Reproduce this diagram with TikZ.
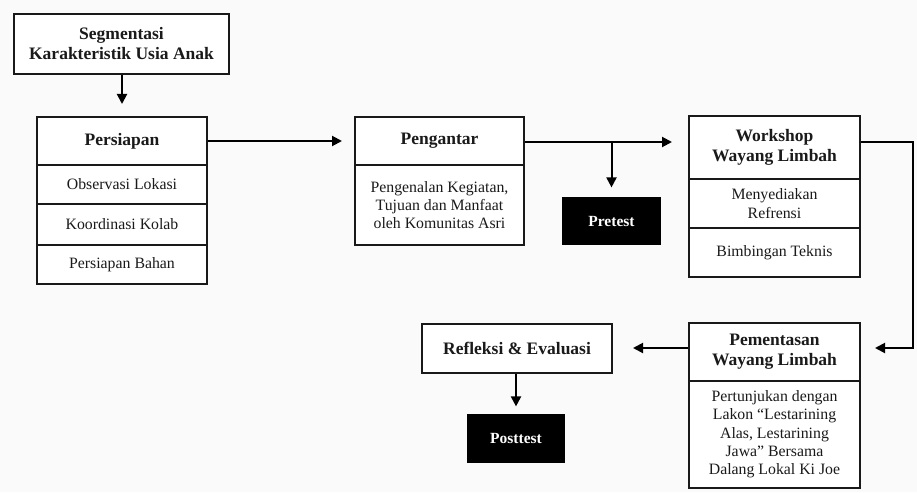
\documentclass[tikz,border=0pt]{standalone}
\usepackage{fontspec}
\setmainfont{Liberation Serif}
\usetikzlibrary{arrows.meta}
\definecolor{bgc}{HTML}{FAFAFA}
\definecolor{txt}{HTML}{1A1A1A}
\tikzset{
  box/.style={draw=black!90, line width=2pt, fill=white, inner sep=2pt, align=center, text=txt},
  head/.style={box, font=\fontsize{17.5}{20}\selectfont\bfseries},
  body/.style={box, font=\fontsize{15.8}{18.3}\selectfont},
  dark/.style={draw=black, line width=1.2pt, fill=black, text=white, font=\fontsize{15.5}{18}\selectfont\bfseries},
  arr/.style={line width=2pt, -{Triangle[length=10pt,width=10pt]}},
}
\begin{document}
\begin{tikzpicture}[x=1pt,y=-1pt]
\fill[bgc] (0,0) rectangle (917,492);
\useasboundingbox (0,0) rectangle (917,492);
% Segmentasi
\node[head, minimum width=215pt, minimum height=60pt] (seg) at (121.5,44) {Segmentasi\\Karakteristik Usia Anak};
% Persiapan
\node[head, minimum width=170pt, minimum height=48pt] (persH) at (122,141) {Persiapan};
\node[body, minimum width=170pt, minimum height=39pt] (pers1) at (122,184.5) {Observasi Lokasi};
\node[body, minimum width=170pt, minimum height=41pt] (pers2) at (122,224.5) {Koordinasi Kolab};
\node[body, minimum width=170pt, minimum height=39pt] (pers3) at (122,264.5) {Persiapan Bahan};
% Pengantar
\node[head, minimum width=169pt, minimum height=48pt] (pengH) at (439.5,141) {Pengantar};
\node[body, minimum width=169pt, minimum height=80pt] (peng1) at (439.5,205) {Pengenalan Kegiatan,\\Tujuan dan Manfaat\\oleh Komunitas Asri};
% Pretest
\node[dark, minimum width=97pt, minimum height=46pt] (pre) at (611.5,221) {Pretest};
% Workshop
\node[head, minimum width=171pt, minimum height=63pt] (wsH) at (774.5,147.5) {Workshop\\Wayang Limbah};
\node[body, minimum width=171pt, minimum height=49pt] (ws1) at (774.5,203.5) {Menyediakan\\Refrensi};
\node[body, minimum width=171pt, minimum height=49pt] (ws2) at (774.5,252.5) {Bimbingan Teknis};
% Pementasan
\node[head, minimum width=171pt, minimum height=58pt] (pemH) at (774.5,352) {Pementasan\\Wayang Limbah};
\node[body, minimum width=171pt, minimum height=107pt] (pem1) at (774.5,434.5) {Pertunjukan dengan\\Lakon ``Lestarining\\Alas, Lestarining\\Jawa'' Bersama\\Dalang Lokal Ki Joe};
% Refleksi
\node[head, minimum width=190pt, minimum height=49pt] (refl) at (517,348.5) {Refleksi \& Evaluasi};
% Posttest
\node[dark, minimum width=96pt, minimum height=47pt] (post) at (516,438.5) {Posttest};
% coordinates
\coordinate (c1) at (913,142);
\coordinate (c2) at (913,348);
% connectors
\draw[arr, shorten >=12pt] (seg.south -| persH.north) -- (persH.north);
\draw[arr, shorten >=12pt] (persH.east) -- (pengH.west);
\draw[arr, shorten >=16pt] (pengH.east |- c1) -- (wsH.west |- c1);
\draw[arr, shorten >=10pt] (pre.north |- c1) -- (pre.north);
\draw[arr, shorten >=14pt] (wsH.east |- c1) -- (c1) -- (c2) -- (pemH.east |- c2);
\draw[arr, shorten >=20pt] (pemH.west |- c2) -- (refl.east |- c2);
\draw[arr, shorten >=8pt] (refl.south -| post.north) -- (post.north);
\end{tikzpicture}
\end{document}
